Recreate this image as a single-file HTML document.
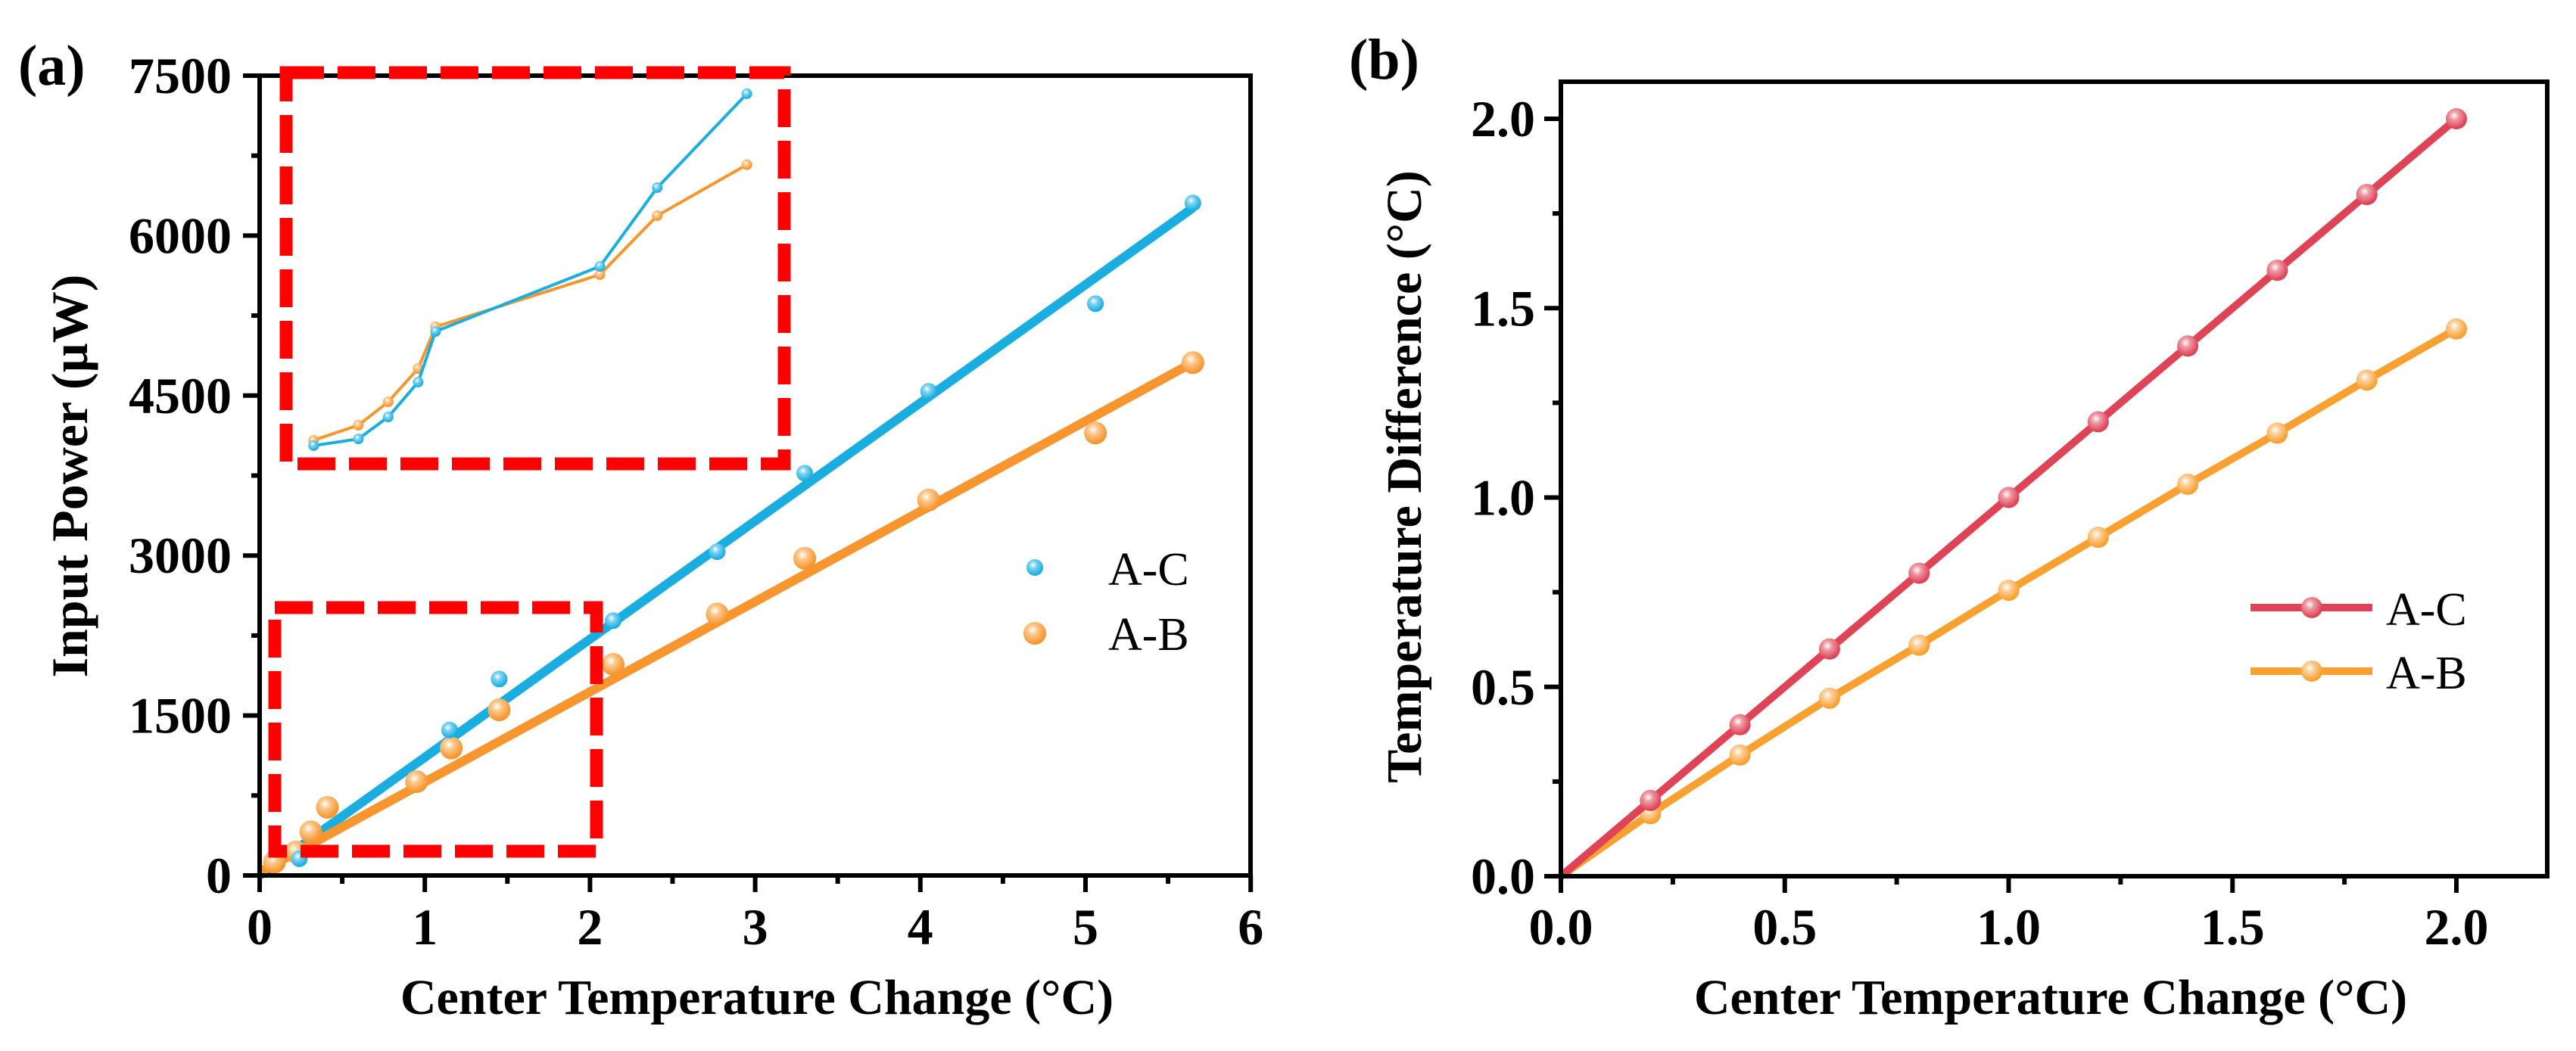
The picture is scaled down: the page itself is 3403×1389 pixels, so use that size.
<!DOCTYPE html>
<html><head><meta charset="utf-8"><style>
html,body{margin:0;padding:0;background:#fff;}
svg{display:block;font-family:"Liberation Serif",serif;}
</style></head><body>
<svg id="fig" width="3403" height="1389" viewBox="0 0 3403 1389" xmlns="http://www.w3.org/2000/svg">
<defs>
<radialGradient id="gb" cx="0.4" cy="0.35" r="0.6"><stop offset="0" stop-color="#ffffff"/><stop offset="0.35" stop-color="#7fd3f0"/><stop offset="1" stop-color="#1aaee0"/></radialGradient>
<radialGradient id="go" cx="0.4" cy="0.35" r="0.6"><stop offset="0" stop-color="#ffffff"/><stop offset="0.35" stop-color="#fbc98d"/><stop offset="1" stop-color="#f7952e"/></radialGradient>
<radialGradient id="gr" cx="0.4" cy="0.35" r="0.6"><stop offset="0" stop-color="#ffffff"/><stop offset="0.35" stop-color="#ee9aa4"/><stop offset="1" stop-color="#de4356"/></radialGradient>
<radialGradient id="gy" cx="0.4" cy="0.35" r="0.6"><stop offset="0" stop-color="#ffffff"/><stop offset="0.35" stop-color="#fcd09a"/><stop offset="1" stop-color="#f8a030"/></radialGradient>
</defs>
<g id="pa"></g>
<g id="pb"></g>
</svg>
<script>
// Panel (a) data
const aXTicks = [0,1,2,3,4,5,6];
const aYTicks = [0,1500,3000,4500,6000,7500];
const acX = [0.24,1.15,1.45,2.14,2.77,3.30,4.05,5.06,5.65];
const acY = [157,1364,1842,2389,3036,3772,4539,5362,6306];
const abX = [0.09,0.22,0.31,0.41,0.95,1.16,1.45,2.14,2.77,3.30,4.05,5.06,5.65];
const abY = [126,220,409,639,880,1195,1553,1980,2452,2974,3520,4149,4809];
const acFit = [0,1108];   // intercept, slope
const abFit = [30,846];
// inset data
const inAcX = [0.21,0.39,0.51,0.63,0.70,1.36,1.59,1.95];
const inAcY = [306,345,473,676,971,1350,1808,2355];
const inAbX = [0.21,0.39,0.51,0.63,0.70,1.36,1.59,1.95];
const inAbY = [337,425,561,755,998,1302,1645,1942];
// Panel (b) data
const bXTicks = [0,0.5,1.0,1.5,2.0];
const bYTicks = [0,0.5,1.0,1.5,2.0];
const bX = [0,0.2,0.4,0.6,0.8,1.0,1.2,1.4,1.6,1.8,2.0];
const bAC = [0,0.2,0.4,0.6,0.8,1.0,1.2,1.4,1.6,1.8,2.0];
const bAB = [0,0.165,0.32,0.47,0.61,0.755,0.895,1.035,1.17,1.31,1.445];

const NS="http://www.w3.org/2000/svg";
function mk(parent,tag,attrs,text){const e=document.createElementNS(NS,tag);for(const k in attrs)e.setAttribute(k,attrs[k]);if(text!==undefined)e.textContent=text;parent.appendChild(e);return e;}

// ---------- Panel A ----------
const pa=document.getElementById('pa');
const ax=v=>343+v*218.2, ay=v=>1157-v*1057/7500;
const A={l:343,r:1652,t:100,b:1157};
// fit lines
[[acFit,'#1aaee0','fit-line-a-c'],[abFit,'#f7952e','fit-line-a-b']].forEach(([f,c,n])=>{
 const l=mk(pa,'line',{x1:ax(0),y1:ay(f[0]),x2:ax(5.65),y2:ay(f[0]+f[1]*5.65),stroke:c,'stroke-width':12});
 
 
});
abX.forEach((x,i)=>{const c=mk(pa,'circle',{cx:ax(x),cy:ay(abY[i]),r:15,fill:'url(#go)'});
 
 });
acX.forEach((x,i)=>{const c=mk(pa,'circle',{cx:ax(x),cy:ay(acY[i]),r:11,fill:'url(#gb)'});
 
 });
// axes frame
let fr=mk(pa,'rect',{x:A.l,y:A.t,width:A.r-A.l,height:A.b-A.t,fill:'none',stroke:'#000','stroke-width':6});


for(let v=0;v<=6;v+=0.5){const big=Number.isInteger(v);mk(pa,'line',{x1:ax(v),y1:A.b,x2:ax(v),y2:A.b+(big?22:11),stroke:'#000','stroke-width':6});}
for(let v=0;v<=7500;v+=750){const big=v%1500===0;mk(pa,'line',{x1:A.l,y1:ay(v),x2:A.l-(big?22:11),y2:ay(v),stroke:'#000','stroke-width':6});}
aXTicks.forEach(v=>{const t=mk(pa,'text',{x:ax(v),y:1248,'font-size':68,'font-weight':'bold','text-anchor':'middle'},String(v));
 
 });
aYTicks.forEach(v=>{const t=mk(pa,'text',{x:306,y:ay(v)+23,'font-size':68,'font-weight':'bold','text-anchor':'end'},String(v));
 
 });
let t=mk(pa,'text',{x:1000,y:1340,'font-size':66,'font-weight':'bold','text-anchor':'middle'},'Center Temperature Change (°C)');


t=mk(pa,'text',{x:0,y:0,'font-size':68,'font-weight':'bold','text-anchor':'middle',transform:'translate(115,629) rotate(-90)'},'Input Power (µW)');


t=mk(pa,'text',{x:24,y:112,'font-size':76,'font-weight':'bold'},'(a)');


// zoom region box
let zb=mk(pa,'rect',{x:363,y:803,width:425,height:322,fill:'none',stroke:'#ff0000','stroke-width':17,'stroke-dasharray':'50 18'});


// inset
const ix=v=>378+(v-0.1)/2.0*658, iy=v=>613-(v-200)/2300*522;
let ib=mk(pa,'rect',{x:378,y:96,width:658,height:517,fill:'none',stroke:'#ff0000','stroke-width':17,'stroke-dasharray':'50 18'});


[[inAbX,inAbY,'#f7952e','url(#go)','inset-line-a-b'],[inAcX,inAcY,'#1aaee0','url(#gb)','inset-line-a-c']].forEach(([xs,ys,c,g,n])=>{
 const p=mk(pa,'polyline',{points:xs.map((x,i)=>ix(x)+','+iy(ys[i])).join(' '),fill:'none',stroke:c,'stroke-width':4});
 
 
 xs.forEach((x,i)=>mk(pa,'circle',{cx:ix(x),cy:iy(ys[i]),r:7,fill:g}));
});
// legend a
let lg=mk(pa,'g',{});


mk(lg,'circle',{cx:1367,cy:750,r:11,fill:'url(#gb)'});
mk(lg,'text',{x:1464,y:773,'font-size':62},'A-C');
mk(lg,'circle',{cx:1367,cy:837,r:15,fill:'url(#go)'});
mk(lg,'text',{x:1464,y:859,'font-size':62},'A-B');

// ---------- Panel B ----------
const pb=document.getElementById('pb');
const bx=v=>2062+v*591.5, by=v=>1158-v*500.5;
const B={l:2062,r:3365,t:108,b:1158};
[[bAB,'#f8a030','url(#gy)','line-a-b'],[bAC,'#de4356','url(#gr)','line-a-c']].forEach(([ys,c,g,n])=>{
 const p=mk(pb,'polyline',{points:bX.map((x,i)=>bx(x)+','+by(ys[i])).join(' '),fill:'none',stroke:c,'stroke-width':10});
 
 
 bX.forEach((x,i)=>{if(i>0){const m=mk(pb,'circle',{cx:bx(x),cy:by(ys[i]),r:14,fill:g});
  
  }});
});
fr=mk(pb,'rect',{x:B.l,y:B.t,width:B.r-B.l,height:B.b-B.t,fill:'none',stroke:'#000','stroke-width':6});


for(let k=0;k<=8;k++){const v=k*0.25,big=k%2===0;mk(pb,'line',{x1:bx(v),y1:B.b,x2:bx(v),y2:B.b+(big?22:11),stroke:'#000','stroke-width':6});}
for(let k=0;k<=8;k++){const v=k*0.25,big=k%2===0;mk(pb,'line',{x1:B.l,y1:by(v),x2:B.l-(big?22:11),y2:by(v),stroke:'#000','stroke-width':6});}
bXTicks.forEach(v=>{const e=mk(pb,'text',{x:bx(v),y:1248,'font-size':68,'font-weight':'bold','text-anchor':'middle'},v.toFixed(1));
 
 });
bYTicks.forEach(v=>{const e=mk(pb,'text',{x:2028,y:by(v)+23,'font-size':68,'font-weight':'bold','text-anchor':'end'},v.toFixed(1));
 
 });
t=mk(pb,'text',{x:2709,y:1340,'font-size':66,'font-weight':'bold','text-anchor':'middle'},'Center Temperature Change (°C)');


t=mk(pb,'text',{x:0,y:0,'font-size':66,'font-weight':'bold','text-anchor':'middle',transform:'translate(1877,630) rotate(-90)'},'Temperature Difference (°C)');


t=mk(pb,'text',{x:1782,y:104,'font-size':76,'font-weight':'bold'},'(b)');


lg=mk(pb,'g',{});


mk(lg,'line',{x1:2973,y1:803,x2:3134,y2:803,stroke:'#de4356','stroke-width':10});
mk(lg,'circle',{cx:3054,cy:803,r:14,fill:'url(#gr)'});
mk(lg,'text',{x:3152,y:826,'font-size':62},'A-C');
mk(lg,'line',{x1:2973,y1:887,x2:3134,y2:887,stroke:'#f8a030','stroke-width':10});
mk(lg,'circle',{cx:3054,cy:887,r:14,fill:'url(#gy)'});
mk(lg,'text',{x:3152,y:910,'font-size':62},'A-B');
</script>
</body></html>
